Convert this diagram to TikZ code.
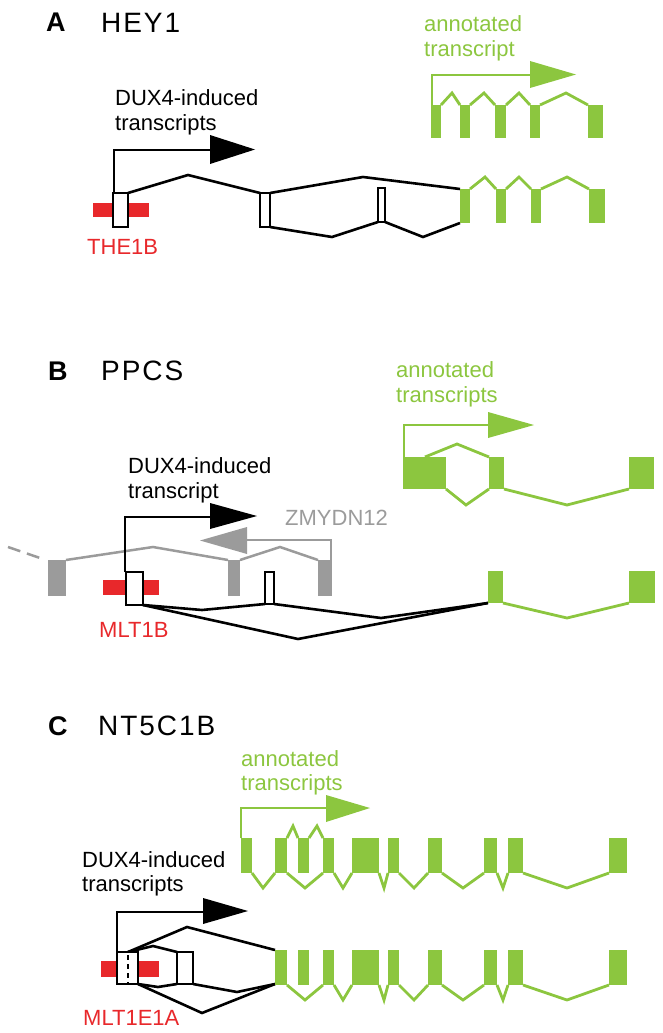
\documentclass[tikz,border=0pt]{standalone}
\usepackage{fontspec}
\setmainfont{Liberation Sans}
\newfontfamily\titlefont[LetterSpace=7]{Liberation Sans}
\definecolor{gr}{HTML}{8CC63F}
\definecolor{rd}{HTML}{E8282B}
\definecolor{gy}{HTML}{9B9B9B}
\tikzset{
 lbl/.style={inner sep=0pt, anchor=base west, font=\fontsize{22}{26}\selectfont},
 ttl/.style={inner sep=0pt, anchor=base west, font=\titlefont\fontsize{28}{32}\selectfont},
 pnl/.style={inner sep=0pt, anchor=base west, font=\bfseries\fontsize{27}{31}\selectfont},
 blk/.style={draw=black, line width=2.6pt},
 exw/.style={draw=black, fill=white, line width=2.4pt},
 grl/.style={draw=gr, line width=2.8pt},
 grx/.style={fill=gr},
 gyl/.style={draw=gy, line width=2.5pt},
 gyx/.style={fill=gy},
 rdx/.style={fill=rd},
}
\begin{document}
\begin{tikzpicture}[x=1pt,y=-1pt]
\useasboundingbox (0,0) rectangle (662,1033);
% ================= Panel A =================
\node[pnl] (pA) at (46,32) {A};
\node[ttl] (tA) at (101,33) {HEY1};
\node[lbl] (dA1) at (115,105) {DUX4-induced};
\node[lbl] (dA2) at (115,130) {transcripts};
\draw[blk] (114,193) -- (114,150) -- (212,150);
\fill (210,135) -- (255,149.5) -- (210,164) -- cycle;
\fill[rdx] (93,203) rectangle (149,217);
\node[lbl, text=rd] (rA) at (87,254) {THE1B};
\draw[blk] (128,193) -- (188,175) -- (260,193);
\draw[blk] (270,193) -- (363,177) -- (460,189);
\draw[blk] (270,227) -- (332,237) -- (378,222);
\draw[blk] (385,222) -- (423,237) -- (460,223);
\draw[exw] (113,193) rectangle (128,227);
\draw[exw] (260,193) rectangle (270,227);
\draw[exw] (378,188) rectangle (385,222);
% green lower row A
\foreach \a/\b in {460/470,496/506,531/541,589/605}{\fill[grx] (\a,189) rectangle (\b,223);}
\draw[grl] (470,189) -- (485,177) -- (496,189);
\draw[grl] (506,189) -- (519,177) -- (531,189);
\draw[grl] (541,189) -- (567,177) -- (589,189);
% green upper row A
\node[lbl, text=gr] (aA1) at (424,32) {annotated};
\node[lbl, text=gr] (aA2) at (424,57) {transcript};
\draw[grl] (432,105) -- (432,75) -- (532,75);
\fill[gr] (530,61) -- (576,74.5) -- (530,88) -- cycle;
\foreach \a/\b in {431/441,460/470,495/506,530/540,588/603}{\fill[grx] (\a,105) rectangle (\b,138);}
\draw[grl] (441,105) -- (452,93) -- (460,105);
\draw[grl] (470,105) -- (484,93) -- (495,105);
\draw[grl] (506,105) -- (519,93) -- (530,105);
\draw[grl] (540,105) -- (566,93) -- (588,105);
% ================= Panel B =================
\node[pnl] (pB) at (48,380) {B};
\node[ttl] (tB) at (101,380) {PPCS};
\node[lbl] (dB1) at (128,473) {DUX4-induced};
\node[lbl] (dB2) at (128,498) {transcript};
% gray ZMYDN12
\draw[gyl, dash pattern=on 13pt off 7pt] (8,547) -- (40,558);
\foreach \a/\b in {48/66,228/240,318/332}{\fill[gyx] (\a,560) rectangle (\b,596);}
\draw[gyl] (66,560) -- (153,547) -- (228,560);
\draw[gyl] (240,560) -- (280,547) -- (318,560);
\draw[gyl] (331,560) -- (331,540) -- (245,540);
\fill[gy] (247,527) -- (200,540.5) -- (247,554) -- cycle;
\node[lbl, text=gy] (zB) at (285,525) {ZMYDN12};
% black
\draw[blk] (125,572) -- (125,517) -- (212,517);
\fill (210,503) -- (257,516) -- (210,529) -- cycle;
\fill[rdx] (103,580) rectangle (159,595);
\node[lbl, text=rd] (rB) at (99,637) {MLT1B};
\draw[blk] (143,605) -- (202,610) -- (265,604);
\draw[blk] (274,604) -- (381,618) -- (488,603);
\draw[blk] (143,605) -- (298,639) -- (488,603);
\draw[exw] (126,572) rectangle (143,605);
\draw[exw] (265,572) rectangle (274,604);
% green lower row B
\foreach \a/\b in {488/503,629/655}{\fill[grx] (\a,571) rectangle (\b,603);}
\draw[grl] (503,603) -- (567,618) -- (629,603);
% green upper row B
\node[lbl, text=gr] (aB1) at (396,377) {annotated};
\node[lbl, text=gr] (aB2) at (396,402) {transcripts};
\draw[grl] (404,457) -- (404,425) -- (490,425);
\fill[gr] (488,412) -- (534,425) -- (488,438) -- cycle;
\foreach \a/\b in {403/446,489/504,629/654}{\fill[grx] (\a,457) rectangle (\b,489);}
\draw[grl] (425,457) -- (457,444) -- (489,457);
\draw[grl] (446,489) -- (466,505) -- (489,489);
\draw[grl] (504,489) -- (567,505) -- (629,489);
% ================= Panel C =================
\node[pnl] (pC) at (48,735) {C};
\node[ttl] (tC) at (98,735) {NT5C1B};
\node[lbl, text=gr] (aC1) at (241,766) {annotated};
\node[lbl, text=gr] (aC2) at (241,790) {transcripts};
\node[lbl] (dC1) at (82,867) {DUX4-induced};
\node[lbl] (dC2) at (82,891) {transcripts};
\draw[blk] (117,952) -- (117,912) -- (205,912);
\fill (203,898) -- (248,911) -- (203,924) -- cycle;
\fill[rdx] (101,961) rectangle (159,977);
\node[lbl, text=rd] (rC) at (83,1025) {MLT1E1A};
\draw[blk] (128,952) -- (153,946) -- (177,952);
\draw[blk] (128,952) -- (187,927) -- (275,950);
\draw[blk] (138,984) -- (158,987) -- (177,984);
\draw[blk] (193,984) -- (237,992) -- (275,984);
\draw[blk] (138,984) -- (202,1013) -- (275,984);
\draw[exw] (117,952) rectangle (138,984);
\draw[black, line width=2.2pt, dash pattern=on 5pt off 4pt] (128,955) -- (128,984);
\draw[exw] (177,952) rectangle (193,984);
% green upper row C
\draw[grl] (241,838) -- (241,808) -- (328,808);
\fill[gr] (326,795) -- (370,808) -- (326,822) -- cycle;
\foreach \a/\b in {241/252,275/287,298/309,323/334,352/379,388/399,428/442,484/497,508/523,609/627}{\fill[grx] (\a,838) rectangle (\b,873);}
\draw[grl] (287,838) -- (293,826) -- (298,838);
\draw[grl] (309,838) -- (317,826) -- (323,838);
\draw[grl] (252,873) -- (263,888) -- (275,873);
\foreach \a/\m/\b in {287/305/323,334/343/352,379/384/388,399/414/428,442/463/484,497/503/508,523/567/609}{\draw[grl] (\a,873) -- (\m,888) -- (\b,873);}
% green lower row C
\foreach \a/\b in {275/287,298/309,323/334,352/379,388/399,428/442,484/497,508/523,609/627}{\fill[grx] (\a,950) rectangle (\b,985);}
\foreach \a/\m/\b in {287/305/323,334/343/352,379/384/388,399/414/428,442/463/484,497/503/508,523/567/609}{\draw[grl] (\a,985) -- (\m,1000) -- (\b,985);}
\end{tikzpicture}
\end{document}
